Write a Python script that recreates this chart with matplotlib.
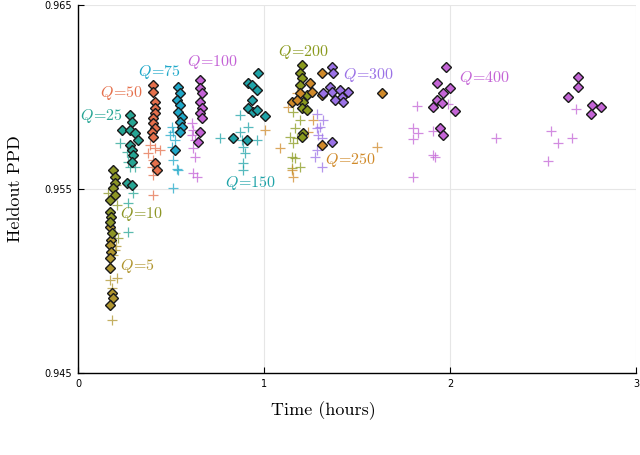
import matplotlib
matplotlib.use("Agg")
import matplotlib.pyplot as plt

# Q labels
q_labels = ["5", "10", "25", "50", "75", "100", "150", "200", "250", "300", "400"]

# diamonds (time in hours, heldout PPD)
q5_diam_t = [0.172, 0.177, 0.172, 0.177, 0.172, 0.172, 0.182, 0.188, 0.172]
q5_diam_ppd = [0.95293, 0.95223, 0.95196, 0.95158, 0.95125, 0.95071, 0.94935, 0.94908, 0.94870]
q5_plus_t = [0.172, 0.210, 0.183, 0.183, 0.199, 0.188, 0.204]
q5_plus_ppd = [0.95005, 0.95016, 0.94962, 0.94788, 0.95168, 0.95140, 0.95190]

q10_diam_t = [0.188, 0.199, 0.199, 0.188, 0.199, 0.172, 0.172, 0.177, 0.172, 0.182]
q10_diam_ppd = [0.95603, 0.95565, 0.95533, 0.95505, 0.95467, 0.95440, 0.95375, 0.95348, 0.95321, 0.95261]
q10_plus_t = [0.161, 0.210, 0.199, 0.215, 0.204]
q10_plus_ppd = [0.95478, 0.95413, 0.95261, 0.95234, 0.95520]

q25_diam_t = [0.280, 0.290, 0.237, 0.280, 0.306, 0.323, 0.280, 0.290, 0.296, 0.290, 0.263, 0.290]
q25_diam_ppd = [0.95902, 0.95864, 0.95821, 0.95821, 0.95804, 0.95766, 0.95739, 0.95712, 0.95685, 0.95647, 0.95533, 0.95522]
q25_plus_t = [0.226, 0.263, 0.290, 0.269, 0.280, 0.296, 0.269, 0.269, 0.306]
q25_plus_ppd = [0.95750, 0.95701, 0.95674, 0.95647, 0.95620, 0.95478, 0.95424, 0.95266, 0.95620]

q50_diam_t = [0.403, 0.403, 0.414, 0.414, 0.414, 0.403, 0.403, 0.414, 0.398, 0.403, 0.414, 0.425]
q50_diam_ppd = [0.96065, 0.96027, 0.95973, 0.95940, 0.95913, 0.95886, 0.95859, 0.95832, 0.95810, 0.95783, 0.95641, 0.95603]
q50_plus_t = [0.387, 0.414, 0.441, 0.376, 0.403, 0.398, 0.403, 0.403]
q50_plus_ppd = [0.95739, 0.95723, 0.95712, 0.95696, 0.95658, 0.95620, 0.95576, 0.95467]

q75_diam_t = [0.538, 0.548, 0.532, 0.548, 0.538, 0.559, 0.548, 0.559, 0.548, 0.522]
q75_diam_ppd = [0.96054, 0.96022, 0.95984, 0.95957, 0.95918, 0.95891, 0.95864, 0.95837, 0.95810, 0.95712]
q75_plus_t = [0.505, 0.511, 0.495, 0.522, 0.505, 0.511, 0.538, 0.511, 0.532]
q75_plus_ppd = [0.95837, 0.95810, 0.95793, 0.95766, 0.95728, 0.95658, 0.95603, 0.95505, 0.95610]

q100_diam_t = [0.656, 0.656, 0.667, 0.656, 0.667, 0.656, 0.667, 0.656, 0.645]
q100_diam_ppd = [0.96092, 0.96049, 0.96022, 0.95973, 0.95940, 0.95913, 0.95886, 0.95810, 0.95755]
q100_plus_t = [0.613, 0.618, 0.613, 0.629, 0.618, 0.629, 0.618, 0.640]
q100_plus_ppd = [0.95859, 0.95821, 0.95793, 0.95766, 0.95723, 0.95674, 0.95587, 0.95565]

q150_diam_t = [0.968, 0.914, 0.935, 0.962, 0.935, 0.914, 0.941, 0.962, 1.005, 0.833, 0.909]
q150_diam_ppd = [0.96130, 0.96076, 0.96065, 0.96038, 0.95984, 0.95940, 0.95918, 0.95929, 0.95897, 0.95777, 0.95766]
q150_plus_t = [0.763, 0.871, 0.914, 0.882, 0.962, 0.887, 0.898, 0.887, 0.887, 0.871]
q150_plus_ppd = [0.95777, 0.95810, 0.95837, 0.95766, 0.95766, 0.95728, 0.95696, 0.95641, 0.95603, 0.95902]

q200_diam_t = [1.204, 1.194, 1.204, 1.194, 1.231, 1.210, 1.204, 1.231, 1.210, 1.204]
q200_diam_ppd = [0.96174, 0.96130, 0.96103, 0.96065, 0.96011, 0.95973, 0.95940, 0.95929, 0.95804, 0.95783]
q200_plus_t = [1.156, 1.194, 1.167, 1.140, 1.177, 1.156, 1.151, 1.167, 1.194, 1.151]
q200_plus_ppd = [0.95918, 0.95875, 0.95832, 0.95783, 0.95777, 0.95750, 0.95674, 0.95669, 0.95620, 0.95614]

q250_diam_t = [1.312, 1.247, 1.194, 1.151, 1.177, 1.258, 1.312, 1.312, 1.634]
q250_diam_ppd = [0.96130, 0.96076, 0.96022, 0.95973, 0.95984, 0.96027, 0.96011, 0.95739, 0.96022]
q250_plus_t = [1.005, 1.086, 1.237, 1.263, 1.151, 1.156, 1.608, 1.129, 1.177]
q250_plus_ppd = [0.95821, 0.95723, 0.95810, 0.95875, 0.95603, 0.95565, 0.95728, 0.95946, 0.96022]

q300_diam_t = [1.366, 1.371, 1.355, 1.366, 1.409, 1.452, 1.419, 1.382, 1.425, 1.317, 1.366]
q300_diam_ppd = [0.96163, 0.96130, 0.96054, 0.96027, 0.96038, 0.96027, 0.96000, 0.95984, 0.95973, 0.96022, 0.95755]
q300_plus_t = [1.285, 1.317, 1.285, 1.290, 1.312, 1.285, 1.274, 1.312, 1.301]
q300_plus_ppd = [0.95908, 0.95875, 0.95832, 0.95793, 0.95777, 0.95712, 0.95674, 0.95620, 0.95837]

q400_diam_t = [1.978, 1.930, 2.000, 1.962, 1.930, 1.909, 1.957, 2.027, 1.946, 1.962,
               2.688, 2.688, 2.634, 2.763, 2.812, 2.757]
q400_diam_ppd = [0.96163, 0.96076, 0.96049, 0.96022, 0.95984, 0.95946, 0.95967, 0.95924, 0.95832, 0.95793,
                 0.96109, 0.96054, 0.96000, 0.95957, 0.95946, 0.95908]
q400_plus_t = [1.823, 1.989, 1.801, 1.828, 1.801, 1.909, 1.909, 1.919, 1.801, 2.247,
               2.677, 2.543, 2.581, 2.656, 2.527]
q400_plus_ppd = [0.95951, 0.95962, 0.95832, 0.95804, 0.95772, 0.95815, 0.95685, 0.95674, 0.95565, 0.95777,
                 0.95935, 0.95815, 0.95750, 0.95777, 0.95652]

# label anchor (left edge, middle) in data units
label_t = [0.226, 0.226, 0.011, 0.118, 0.323, 0.586, 0.790, 1.075, 1.328, 1.425, 2.048]
label_ppd = [0.95080, 0.95364, 0.95897, 0.96022, 0.96136, 0.96190, 0.95533, 0.96245, 0.95658, 0.96120, 0.96103]

colors = ["#b0952e", "#8d9626", "#26a594", "#e5704c", "#1fa8c9", "#c462d6",
          "#1fa3a8", "#8a9a1e", "#d08a2a", "#9b72e6", "#c465d6"]

diam_t = [q5_diam_t, q10_diam_t, q25_diam_t, q50_diam_t, q75_diam_t, q100_diam_t,
          q150_diam_t, q200_diam_t, q250_diam_t, q300_diam_t, q400_diam_t]
diam_ppd = [q5_diam_ppd, q10_diam_ppd, q25_diam_ppd, q50_diam_ppd, q75_diam_ppd, q100_diam_ppd,
            q150_diam_ppd, q200_diam_ppd, q250_diam_ppd, q300_diam_ppd, q400_diam_ppd]
plus_t = [q5_plus_t, q10_plus_t, q25_plus_t, q50_plus_t, q75_plus_t, q100_plus_t,
          q150_plus_t, q200_plus_t, q250_plus_t, q300_plus_t, q400_plus_t]
plus_ppd = [q5_plus_ppd, q10_plus_ppd, q25_plus_ppd, q50_plus_ppd, q75_plus_ppd, q100_plus_ppd,
            q150_plus_ppd, q200_plus_ppd, q250_plus_ppd, q300_plus_ppd, q400_plus_ppd]

plt.rcParams["mathtext.fontset"] = "cm"

fig = plt.figure(figsize=(6.4, 4.55), dpi=100)
ax = fig.add_axes([0.1219, 0.1802, 0.8719, 0.8088])

# kreuze zuerst, rauten oben drauf
for i in range(len(q_labels)):
    ax.plot(plus_t[i], plus_ppd[i], "+", color=colors[i], ms=7.5, mew=0.9, alpha=0.75, zorder=2)
for i in range(len(q_labels)):
    ax.plot(diam_t[i], diam_ppd[i], "D", mfc=colors[i], mec="#1a1a1a", ms=5.0, mew=1.0,
            ls="none", zorder=3)
for i in range(len(q_labels)):
    ax.text(label_t[i], label_ppd[i], r"$Q\!=\!%s$" % q_labels[i], color=colors[i],
            fontsize=11.5, ha="left", va="center", zorder=4)

ax.set_xlim(0, 3)
ax.set_ylim(0.945, 0.965)
ax.set_xticks([0, 1, 2, 3])
ax.set_yticks([0.945, 0.955, 0.965])
ax.set_xticklabels(["0", "1", "2", "3"])
ax.set_yticklabels(["0.945", "0.955", "0.965"])
ax.grid(True, color="#e6e6e6", lw=0.8, zorder=0)
ax.set_axisbelow(True)
for s in ["top", "right"]:
    ax.spines[s].set_visible(False)
for s in ["left", "bottom"]:
    ax.spines[s].set_linewidth(1.0)
ax.tick_params(direction="in", length=4, width=0.8, labelsize=7, pad=4)

ax.set_xlabel("Time (hours)", fontfamily="cmr10", fontsize=13)
ax.set_ylabel("Heldout PPD", fontfamily="cmr10", fontsize=13)
ax.xaxis.set_label_coords(0.439, -0.078)
ax.yaxis.set_label_coords(-0.098, 0.5)

fig.savefig("out.png", dpi=100)
